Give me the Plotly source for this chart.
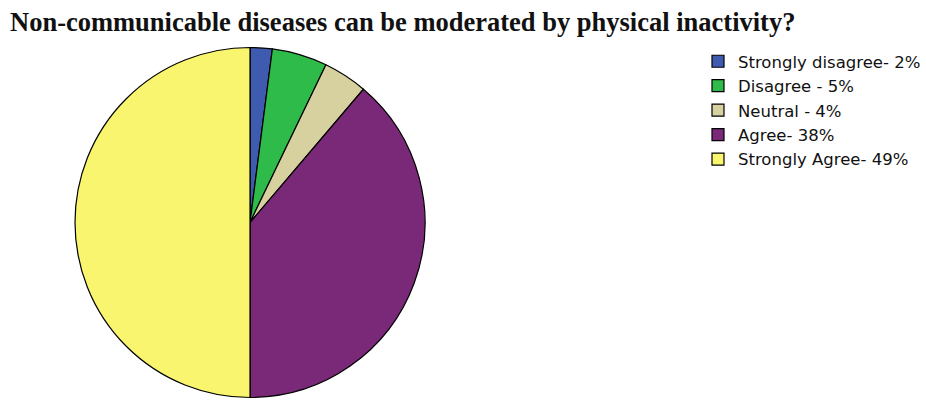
import plotly.graph_objects as go

# Survey responses: share of respondents per answer (percent)
labels = [
    "Strongly disagree- 2%",
    "Disagree - 5%",
    "Neutral - 4%",
    "Agree- 38%",
    "Strongly Agree- 49%",
]
values = [2, 5, 4, 38, 49]
colors = ["#3F5BB0", "#2EBB4A", "#D7D19F", "#7A2878", "#FAF56F"]

title_text = "Non-communicable diseases can be moderated by physical inactivity?"

W, H = 926, 400
cx, cy, r = 250, 222.5, 175

fig = go.Figure(
    go.Pie(
        labels=labels,
        values=values,
        sort=False,
        direction="clockwise",
        rotation=0,
        marker=dict(colors=colors, line=dict(color="#000000", width=1.2)),
        textinfo="none",
        hoverinfo="label",
        domain=dict(
            x=[(cx - r) / W, (cx + r) / W],
            y=[(H - cy - r) / H, (H - cy + r) / H],
        ),
    )
)

fig.update_layout(
    width=W,
    height=H,
    margin=dict(l=0, r=0, t=0, b=0),
    paper_bgcolor="white",
    plot_bgcolor="white",
    showlegend=True,
    legend=dict(
        x=698 / W,
        y=1 - 44 / H,
        xanchor="left",
        yanchor="top",
        font=dict(family="DejaVu Sans", size=16.5, color="#111111"),
        bgcolor="rgba(0,0,0,0)",
        itemwidth=30,
        tracegroupgap=0,
    ),
    annotations=[
        dict(
            text="<b>" + title_text + "</b>",
            x=8 / W,
            y=1 - 5 / H,
            xref="paper",
            yref="paper",
            xanchor="left",
            yanchor="top",
            showarrow=False,
            font=dict(family="Liberation Serif", size=26.5, color="#111111"),
        )
    ],
)

fig.write_html("out.html")
